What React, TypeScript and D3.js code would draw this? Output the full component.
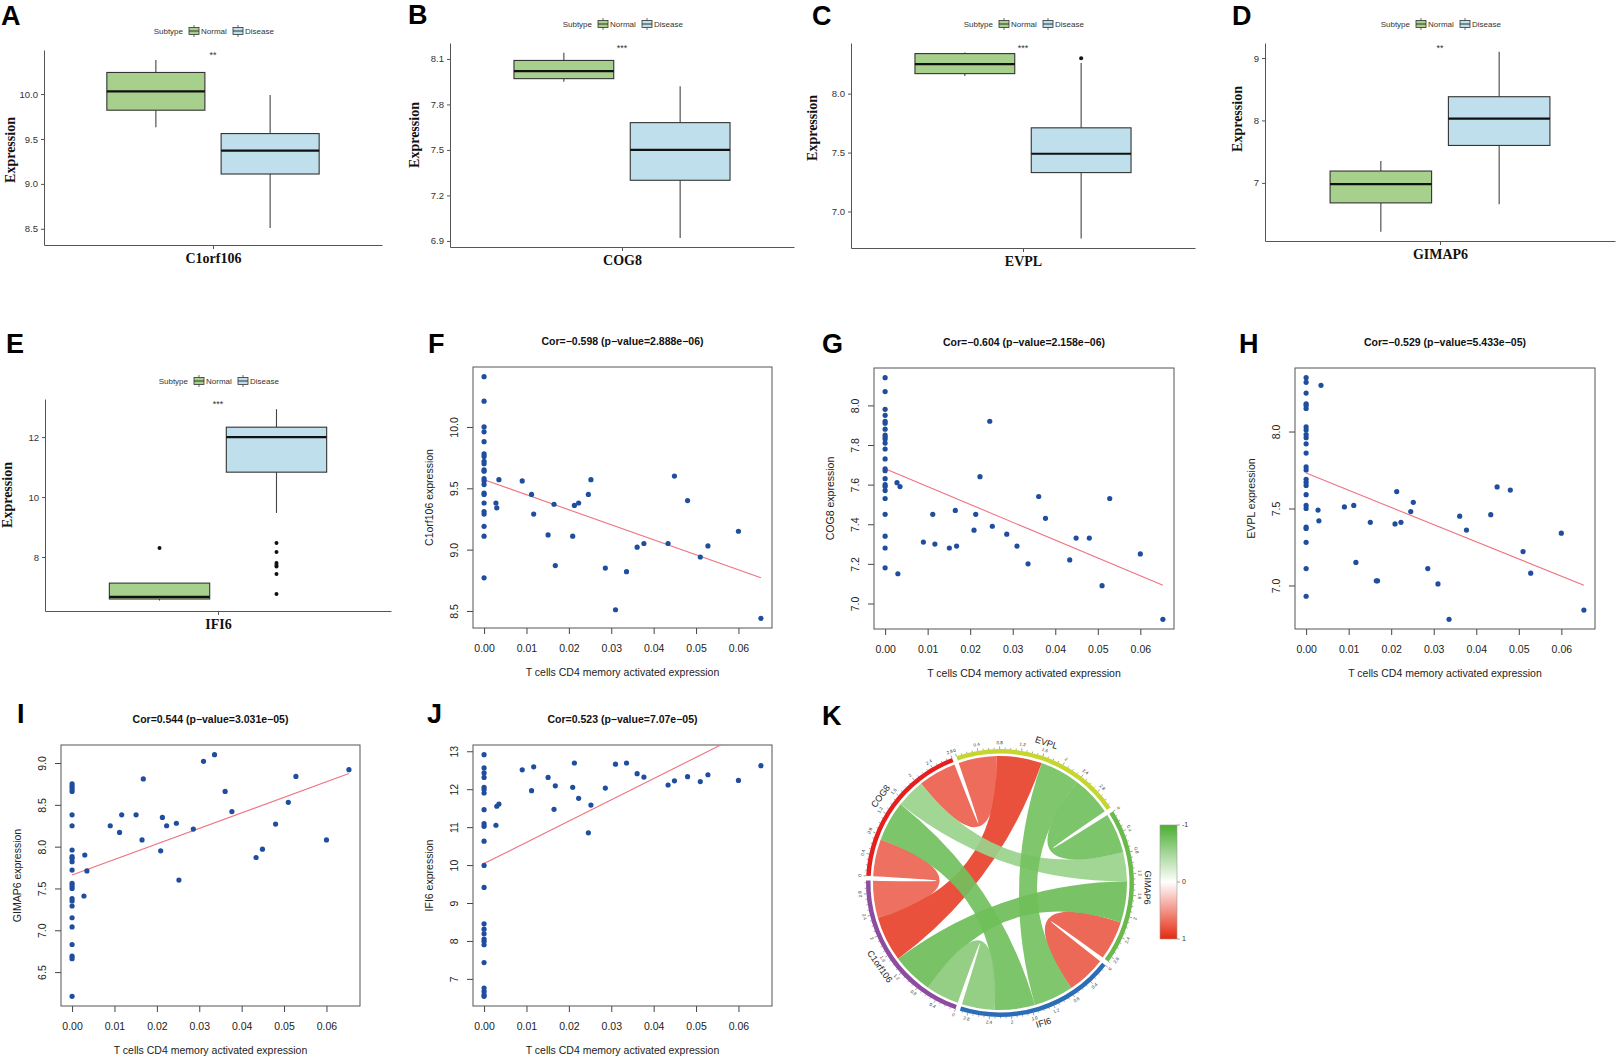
import React, { useEffect, useRef } from "react";
import * as d3 from "d3";

const W = 1617;
const H = 1057;
const SANS = "'Liberation Sans', Arial, Helvetica, sans-serif";
const SERIF = "'Liberation Serif', 'Times New Roman', serif";

// ---------- A-E boxplots: [lower whisker, Q1, median, Q3, upper whisker] ----------
const subtypes = ["Normal", "Disease"];
const boxGenes = ["C1orf106", "COG8", "EVPL", "GIMAP6", "IFI6"];
const normalStats = [
  [9.63, 9.82, 10.03, 10.24, 10.38],
  [7.95, 7.97, 8.02, 8.09, 8.14],
  [8.15, 8.17, 8.25, 8.34, 8.35],
  [6.22, 6.68, 6.98, 7.19, 7.35],
  [6.55, 6.6, 6.67, 7.13, 7.13],
];
const diseaseStats = [
  [8.51, 9.11, 9.37, 9.56, 9.99],
  [6.92, 7.3, 7.5, 7.68, 7.92],
  [6.77, 7.33, 7.49, 7.71, 8.26],
  [6.66, 7.6, 8.03, 8.38, 9.1],
  [9.47, 10.83, 12.0, 12.33, 12.93],
];
const normalOutliers = [[], [], [], [], [8.3]];
const diseaseOutliers = [[], [], [8.3], [], [8.47, 8.17, 7.8, 7.73, 7.68, 7.43, 6.77]];
const boxSignif = ["**", "***", "***", "**", "***"];
const boxTicks = [
  [8.5, 9.0, 9.5, 10.0],
  [6.9, 7.2, 7.5, 7.8, 8.1],
  [7.0, 7.5, 8.0],
  [7, 8, 9],
  [8, 10, 12],
];
const boxTickFormat = [".1f", ".1f", ".1f", "d", "d"];
const boxYRange = [
  [8.32, 10.49],
  [6.86, 8.205],
  [6.69, 8.43],
  [6.07, 9.24],
  [6.2, 13.27],
];

// ---------- F-J scatter: T cells CD4 memory activated vs expression ----------
const cd4Nonzero = [
  0.0028, 0.003, 0.0035, 0.009, 0.0112, 0.0117, 0.0151, 0.0165, 0.0168, 0.0209, 0.0213, 0.0223, 0.0246,
  0.0252, 0.0286, 0.031, 0.0336, 0.0361, 0.0377, 0.0434, 0.0449, 0.048, 0.051, 0.0528, 0.06, 0.0653,
];
const scatterGenes = ["C1orf106", "COG8", "EVPL", "GIMAP6", "IFI6"];
const corTitles = [
  "Cor=\u22120.598 (p\u2212value=2.888e\u221206)",
  "Cor=\u22120.604 (p\u2212value=2.158e\u221206)",
  "Cor=\u22120.529 (p\u2212value=5.433e\u221205)",
  "Cor=0.544 (p\u2212value=3.031e\u221205)",
  "Cor=0.523 (p\u2212value=7.07e\u221205)",
];
const exprAtZero = [
  [10.41, 10.21, 10.0, 9.96, 9.88, 9.78, 9.76, 9.72, 9.7, 9.65, 9.64, 9.58, 9.56, 9.53, 9.46, 9.45, 9.38, 9.31, 9.29, 9.19, 9.11, 8.77],
  [8.14, 8.07, 7.98, 7.95, 7.92, 7.91, 7.88, 7.85, 7.84, 7.83, 7.81, 7.78, 7.73, 7.68, 7.67, 7.63, 7.6, 7.59, 7.57, 7.53, 7.45, 7.34, 7.28, 7.18],
  [8.35, 8.32, 8.25, 8.18, 8.17, 8.15, 8.03, 8.01, 7.98, 7.96, 7.92, 7.86, 7.77, 7.75, 7.69, 7.67, 7.65, 7.59, 7.52, 7.5, 7.38, 7.37, 7.28, 7.11, 6.93],
  [8.75, 8.72, 8.69, 8.66, 8.38, 8.25, 7.96, 7.88, 7.86, 7.82, 7.72, 7.56, 7.53, 7.5, 7.38, 7.35, 7.29, 7.15, 7.04, 6.83, 6.69, 6.66, 6.21],
  [12.91, 12.56, 12.43, 12.31, 12.05, 11.99, 11.9, 11.46, 11.09, 11.02, 10.63, 9.99, 9.41, 8.45, 8.31, 8.19, 8.05, 7.99, 7.9, 7.43, 6.76, 6.67, 6.58, 6.54],
];
const exprNonzero = [
  [9.38, 9.34, 9.57, 9.56, 9.45, 9.29, 9.12, 9.37, 8.87, 9.11, 9.36, 9.38, 9.45, 9.57, 8.85, 8.51, 8.82, 9.02, 9.05, 9.05, 9.6, 9.4, 8.94, 9.03, 9.15, 8.44],
  [7.61, 7.15, 7.59, 7.31, 7.45, 7.3, 7.28, 7.47, 7.29, 7.37, 7.45, 7.64, 7.92, 7.39, 7.35, 7.29, 7.2, 7.54, 7.43, 7.22, 7.33, 7.33, 7.09, 7.53, 7.25, 6.92],
  [7.49, 7.42, 8.3, 7.51, 7.52, 7.15, 7.41, 7.03, 7.03, 7.4, 7.61, 7.41, 7.48, 7.54, 7.11, 7.01, 6.78, 7.45, 7.36, 7.46, 7.64, 7.62, 7.22, 7.08, 7.34, 6.84],
  [7.41, 7.9, 7.71, 8.25, 8.17, 8.38, 8.38, 8.08, 8.81, 7.95, 8.35, 8.25, 8.28, 7.6, 8.21, 9.02, 9.1, 8.66, 8.42, 7.87, 7.97, 8.27, 8.53, 8.84, 8.08, 8.92],
  [11.05, 11.55, 11.61, 12.51, 11.96, 12.59, 12.31, 11.47, 12.09, 12.05, 12.69, 11.76, 10.85, 11.58, 12.03, 12.66, 12.69, 12.41, 12.32, 12.11, 12.22, 12.33, 12.2, 12.38, 12.23, 12.62],
];
const fitIntercept = [9.57, 7.68, 7.73, 7.66, 10.04];
const fitSlope = [-12.25, -9.0, -11.16, 18.6, 56.0];
const scatterTickFormat = [".1f", ".1f", ".1f", ".1f", "d"];

// ---------- K chord: gene-gene correlations ----------
const chordGenes = ["EVPL", "GIMAP6", "IFI6", "C1orf106", "COG8"];
const corFrom = ["COG8", "COG8", "EVPL", "GIMAP6", "COG8", "COG8", "EVPL", "EVPL", "C1orf106", "C1orf106"];
const corTo = ["EVPL", "C1orf106", "C1orf106", "IFI6", "GIMAP6", "IFI6", "GIMAP6", "IFI6", "GIMAP6", "IFI6"];
const corValue = [0.74, 0.72, 0.88, 0.76, -0.56, -0.78, -0.78, -0.77, -0.8, -0.64];
const legendTicks = [-1, 0, 1];

// layout
const boxFrames = [
  { left: 44, right: 382, top: 50, bottom: 245, legendY: 31, yLabX: 12, yLabY: 150 },
  { left: 450, right: 794, top: 43, bottom: 247, legendY: 24, yLabX: 416, yLabY: 135 },
  { left: 851, right: 1195, top: 43, bottom: 248, legendY: 24, yLabX: 814, yLabY: 128 },
  { left: 1265, right: 1615, top: 43, bottom: 241, legendY: 24, yLabX: 1239, yLabY: 119 },
  { left: 45, right: 391, top: 399, bottom: 611, legendY: 381, yLabX: 9, yLabY: 495 },
];
const scatterFrames = [
  { left: 473, right: 772, top: 367, bottom: 628 },
  { left: 874, right: 1174, top: 368, bottom: 629 },
  { left: 1295, right: 1595, top: 368, bottom: 629 },
  { left: 61, right: 360, top: 745, bottom: 1006 },
  { left: 473, right: 772, top: 745, bottom: 1006 },
];
const panelTags = [
  { t: "A", x: 1, y: 25 },
  { t: "B", x: 408, y: 24 },
  { t: "C", x: 812, y: 25 },
  { t: "D", x: 1232, y: 25 },
  { t: "E", x: 6, y: 353 },
  { t: "F", x: 428, y: 353 },
  { t: "G", x: 822, y: 353 },
  { t: "H", x: 1239, y: 353 },
  { t: "I", x: 17, y: 723 },
  { t: "J", x: 427, y: 723 },
  { t: "K", x: 822, y: 725 },
];

const boxFill = ["#A8D08D", "#BEDFEB"];
const sectorColors = ["#C6D62E", "#6AB94A", "#2C6DB8", "#8E4CA0", "#E3201F"];
const corColor = d3.scaleLinear<string>().domain([-1, 0, 1]).range(["#4AAE30", "#FFFFFF", "#E5280F"]);

function drawBoxPanel(svg: any, i: number, f: any) {
  const g = svg.append("g");
  const y = d3.scaleLinear().domain(boxYRange[i]).range([f.bottom, f.top]);
  const x = d3.scaleBand().domain(subtypes).range([f.left, f.right]).paddingInner(0.142).paddingOuter(0.55);
  const xc = d3.scalePoint().domain([boxGenes[i]]).range([f.left, f.right]).padding(0.5);
  const mid = xc(boxGenes[i]) as number;

  const yAx = g
    .append("g")
    .attr("transform", `translate(${f.left},0)`)
    .call(
      d3
        .axisLeft(y)
        .tickValues(boxTicks[i])
        .tickFormat(d3.format(boxTickFormat[i]) as any)
        .tickSize(3)
        .tickSizeOuter(0)
        .tickPadding(3)
    )
    .attr("font-family", SANS)
    .attr("font-size", 9.5);
  yAx.select(".domain").attr("stroke", "#555");
  yAx.selectAll(".tick line").attr("stroke", "#555");
  yAx.selectAll(".tick text").attr("fill", "#333");

  const xAx = g
    .append("g")
    .attr("transform", `translate(0,${f.bottom})`)
    .call(d3.axisBottom(xc).tickSize(4).tickSizeOuter(0).tickPadding(4));
  xAx.select(".domain").attr("stroke", "#555");
  xAx.selectAll(".tick line").attr("stroke", "#555");
  xAx
    .selectAll(".tick text")
    .attr("font-family", SERIF)
    .attr("font-weight", "bold")
    .attr("font-size", 14)
    .attr("fill", "#111");

  subtypes.forEach((s, k) => {
    const st = k === 0 ? normalStats[i] : diseaseStats[i];
    const outs = k === 0 ? normalOutliers[i] : diseaseOutliers[i];
    const x0 = x(s) as number;
    const bw = x.bandwidth();
    const cx = x0 + bw / 2;
    g.append("line")
      .attr("x1", cx).attr("x2", cx)
      .attr("y1", y(st[0])).attr("y2", y(st[1]))
      .attr("stroke", "#444").attr("stroke-width", 1.1);
    g.append("line")
      .attr("x1", cx).attr("x2", cx)
      .attr("y1", y(st[3])).attr("y2", y(st[4]))
      .attr("stroke", "#444").attr("stroke-width", 1.1);
    g.append("rect")
      .attr("x", x0).attr("y", y(st[3]))
      .attr("width", bw).attr("height", y(st[1]) - y(st[3]))
      .attr("fill", boxFill[k]).attr("stroke", "#333").attr("stroke-width", 1.1);
    g.append("line")
      .attr("x1", x0).attr("x2", x0 + bw)
      .attr("y1", y(st[2])).attr("y2", y(st[2]))
      .attr("stroke", "#111").attr("stroke-width", 2.2);
    g.selectAll(null)
      .data(outs)
      .enter()
      .append("circle")
      .attr("cx", cx).attr("cy", (d: number) => y(d))
      .attr("r", 2).attr("fill", "#111");
  });

  // significance stars
  g.append("text")
    .attr("x", mid).attr("y", f.top + 8)
    .attr("text-anchor", "middle")
    .attr("font-family", SANS).attr("font-size", 9).attr("fill", "#333")
    .text(boxSignif[i]);

  // y label
  g.append("text")
    .attr("transform", `translate(${f.yLabX},${f.yLabY}) rotate(-90)`)
    .attr("text-anchor", "middle")
    .attr("dominant-baseline", "middle")
    .attr("font-family", SERIF).attr("font-weight", "bold").attr("font-size", 14)
    .attr("fill", "#111")
    .text("Expression");

  // legend
  const lg = g.append("g").attr("transform", `translate(${mid},${f.legendY})`)
    .attr("font-family", SANS).attr("font-size", 8).attr("fill", "#333");
  lg.append("text").attr("x", -30).attr("y", 3).attr("text-anchor", "end").text("Subtype");
  const keyX = [-19, 25];
  subtypes.forEach((s, k) => {
    const kx = keyX[k];
    lg.append("line").attr("x1", kx).attr("x2", kx).attr("y1", -6).attr("y2", 6).attr("stroke", "#444").attr("stroke-width", 0.8);
    lg.append("rect").attr("x", kx - 5).attr("y", -3.5).attr("width", 10).attr("height", 7)
      .attr("fill", boxFill[k]).attr("stroke", "#333").attr("stroke-width", 0.8);
    lg.append("line").attr("x1", kx - 5).attr("x2", kx + 5).attr("y1", 0).attr("y2", 0).attr("stroke", "#222").attr("stroke-width", 0.9);
    lg.append("text").attr("x", kx + 7).attr("y", 3).text(s);
  });
}

function drawScatter(svg: any, i: number, f: any) {
  const g = svg.append("g");
  const pts: [number, number][] = exprAtZero[i]
    .map((v) => [0, v] as [number, number])
    .concat(cd4Nonzero.map((c, k) => [c, exprNonzero[i][k]] as [number, number]));
  const widen = (e: [number, number]) => {
    const d = (e[1] - e[0]) * 0.04;
    return [e[0] - d, e[1] + d];
  };
  const xExt = d3.extent(pts, (p) => p[0]) as [number, number];
  const yExt = d3.extent(pts, (p) => p[1]) as [number, number];
  const x = d3.scaleLinear().domain(widen(xExt)).range([f.left, f.right]);
  const y = d3.scaleLinear().domain(widen(yExt)).range([f.bottom, f.top]);

  const clipId = `clip-sc-${i}`;
  svg.select("defs").append("clipPath").attr("id", clipId)
    .append("rect").attr("x", f.left).attr("y", f.top)
    .attr("width", f.right - f.left).attr("height", f.bottom - f.top);

  // x axis
  const xAx = g.append("g").attr("transform", `translate(0,${f.bottom})`)
    .call(d3.axisBottom(x).ticks(7).tickFormat(d3.format(".2f") as any).tickSize(6).tickPadding(11))
    .attr("font-family", SANS).attr("font-size", 10.5);
  xAx.select(".domain").remove();
  xAx.selectAll(".tick line").attr("stroke", "#444");
  xAx.selectAll(".tick text").attr("fill", "#222");

  // y axis (labels parallel to axis, as in base R)
  const yAx = g.append("g").attr("transform", `translate(${f.left},0)`)
    .call(d3.axisLeft(y).ticks(5).tickFormat(d3.format(scatterTickFormat[i]) as any).tickSize(6))
    .attr("font-family", SANS).attr("font-size", 10.5);
  yAx.select(".domain").remove();
  yAx.selectAll(".tick line").attr("stroke", "#444");
  yAx.selectAll(".tick text")
    .attr("x", null).attr("dy", null)
    .attr("transform", "translate(-15,0) rotate(-90)")
    .attr("text-anchor", "middle")
    .attr("fill", "#222");

  // frame
  g.append("rect")
    .attr("x", f.left).attr("y", f.top)
    .attr("width", f.right - f.left).attr("height", f.bottom - f.top)
    .attr("fill", "none").attr("stroke", "#555").attr("stroke-width", 1);

  // fitted line
  const line = d3.line();
  g.append("path")
    .attr("clip-path", `url(#${clipId})`)
    .attr("d", line(xExt.map((v) => [x(v), y(fitIntercept[i] + fitSlope[i] * v)] as [number, number])) as string)
    .attr("fill", "none").attr("stroke", "#EF7280").attr("stroke-width", 1.1);

  g.selectAll(null)
    .data(pts)
    .enter()
    .append("circle")
    .attr("cx", (d: [number, number]) => x(d[0]))
    .attr("cy", (d: [number, number]) => y(d[1]))
    .attr("r", 2.6)
    .attr("fill", "#1F4E9F");

  // title & labels
  const cx = (f.left + f.right) / 2;
  g.append("text")
    .attr("x", cx).attr("y", f.top - 22)
    .attr("text-anchor", "middle")
    .attr("font-family", SANS).attr("font-weight", "bold").attr("font-size", 10.5).attr("fill", "#111")
    .text(corTitles[i]);
  g.append("text")
    .attr("x", cx).attr("y", f.bottom + 48)
    .attr("text-anchor", "middle")
    .attr("font-family", SANS).attr("font-size", 10.5).attr("fill", "#222")
    .text("T cells CD4 memory activated expression");
  g.append("text")
    .attr("transform", `translate(${f.left - 40},${(f.top + f.bottom) / 2}) rotate(-90)`)
    .attr("text-anchor", "middle")
    .attr("font-family", SANS).attr("font-size", 10.5).attr("fill", "#222")
    .text(`${scatterGenes[i]} expression`);
}

function onCircle(r: number, ang: number) {
  const deg = (ang * 180) / Math.PI;
  const norm = ((deg % 360) + 360) % 360;
  const flip = norm > 100 && norm < 260;
  return `translate(${r * Math.sin(ang)},${-r * Math.cos(ang)}) rotate(${flip ? deg + 180 : deg})`;
}

function drawChord(svg: any) {
  const g = svg.append("g").attr("transform", "translate(1000,883)");
  const n = chordGenes.length;
  const idx = (name: string) => chordGenes.indexOf(name);
  const totals = chordGenes.map((_, i) =>
    d3.sum(corValue.filter((_, p) => idx(corFrom[p]) === i || idx(corTo[p]) === i), (v) => Math.abs(v))
  );
  const pad = (2 * Math.PI) / 180;
  const unit = (2 * Math.PI - n * pad) / d3.sum(totals);
  const starts: number[] = [];
  let a = (-19 * Math.PI) / 180;
  totals.forEach((t) => {
    starts.push(a);
    a += t * unit + pad;
  });

  // link ends inside each sector, nearest neighbour first
  const ends: Record<string, { startAngle: number; endAngle: number }> = {};
  chordGenes.forEach((_, i) => {
    let pos = starts[i];
    for (let k = 1; k < n; k++) {
      const j = (i - k + n) % n;
      const p = corValue.findIndex(
        (_, q) =>
          (idx(corFrom[q]) === i && idx(corTo[q]) === j) || (idx(corFrom[q]) === j && idx(corTo[q]) === i)
      );
      const w = Math.abs(corValue[p]) * unit;
      ends[`${i}-${j}`] = { startAngle: pos, endAngle: pos + w };
      pos += w;
    }
  });

  const ribbon = d3.ribbon().radius(127);
  corValue.forEach((v, p) => {
    const i = idx(corFrom[p]);
    const j = idx(corTo[p]);
    g.append("path")
      .attr("d", ribbon({ source: ends[`${i}-${j}`], target: ends[`${j}-${i}`] } as any) as any)
      .attr("fill", corColor(v))
      .attr("fill-opacity", 0.92);
  });

  const arc = d3.arc().innerRadius(129.5).outerRadius(134);
  chordGenes.forEach((name, i) => {
    const s0 = starts[i];
    const s1 = s0 + totals[i] * unit;
    g.append("path")
      .attr("d", arc({ startAngle: s0, endAngle: s1 } as any) as string)
      .attr("fill", sectorColors[i]);
    const tickScale = d3.scaleLinear().domain([0, totals[i]]).range([s0, s1]);
    const nTick = Math.floor(totals[i] * 10 + 1e-6);
    d3.range(0, nTick + 1).forEach((k) => {
      const ang = tickScale(k / 10);
      const major = k % 4 === 0;
      const r1 = 134;
      const r2 = r1 + (major ? 2.6 : 1.4);
      g.append("line")
        .attr("x1", r1 * Math.sin(ang)).attr("y1", -r1 * Math.cos(ang))
        .attr("x2", r2 * Math.sin(ang)).attr("y2", -r2 * Math.cos(ang))
        .attr("stroke", "#444").attr("stroke-width", 0.5);
      if (major) {
        g.append("text")
          .attr("transform", onCircle(140, ang))
          .attr("text-anchor", "middle").attr("dominant-baseline", "middle")
          .attr("font-family", SANS).attr("font-size", 4.5).attr("fill", "#333")
          .text(d3.format("~g")(k / 10));
      }
    });
    g.append("text")
      .attr("transform", onCircle(147, (s0 + s1) / 2))
      .attr("text-anchor", "middle").attr("dominant-baseline", "middle")
      .attr("font-family", SANS).attr("font-size", 9).attr("fill", "#222")
      .text(name);
  });

  // colour legend
  const defs = svg.select("defs");
  const grad = defs.append("linearGradient").attr("id", "corGrad")
    .attr("x1", 0).attr("x2", 0).attr("y1", 0).attr("y2", 1);
  d3.range(0, 9).forEach((k) => {
    grad.append("stop").attr("offset", k / 8).attr("stop-color", corColor(-1 + k * 0.25));
  });
  const ly = d3.scaleLinear().domain([-1, 1]).range([825, 939]);
  svg.append("rect")
    .attr("x", 1160).attr("y", ly(-1))
    .attr("width", 17).attr("height", ly(1) - ly(-1))
    .attr("fill", "url(#corGrad)").attr("stroke", "#999").attr("stroke-width", 0.6);
  legendTicks.forEach((t) => {
    svg.append("line")
      .attr("x1", 1177).attr("x2", 1180)
      .attr("y1", ly(t)).attr("y2", ly(t))
      .attr("stroke", "#666").attr("stroke-width", 0.6);
    svg.append("text")
      .attr("x", 1182).attr("y", ly(t))
      .attr("dominant-baseline", "middle")
      .attr("font-family", SANS).attr("font-size", 7).attr("fill", "#333")
      .text(String(t));
  });
}

export default function App() {
  const svgRef = useRef<SVGSVGElement>(null);

  useEffect(() => {
    if (!svgRef.current) return;
    const svg = d3.select(svgRef.current);
    svg.selectAll("*").remove();
    svg.append("defs");
    svg.append("rect").attr("width", W).attr("height", H).attr("fill", "#fff");

    boxFrames.forEach((f, i) => drawBoxPanel(svg, i, f));
    scatterFrames.forEach((f, i) => drawScatter(svg, i, f));
    drawChord(svg);

    svg.selectAll(null)
      .data(panelTags)
      .enter()
      .append("text")
      .attr("x", (d: any) => d.x)
      .attr("y", (d: any) => d.y)
      .attr("font-family", SANS)
      .attr("font-weight", "bold")
      .attr("font-size", 27)
      .attr("fill", "#000")
      .text((d: any) => d.t);
  }, []);

  return (
    <svg
      ref={svgRef}
      width={W}
      height={H}
      style={{ position: "absolute", left: 0, top: 0, display: "block", background: "#fff" }}
    />
  );
}
